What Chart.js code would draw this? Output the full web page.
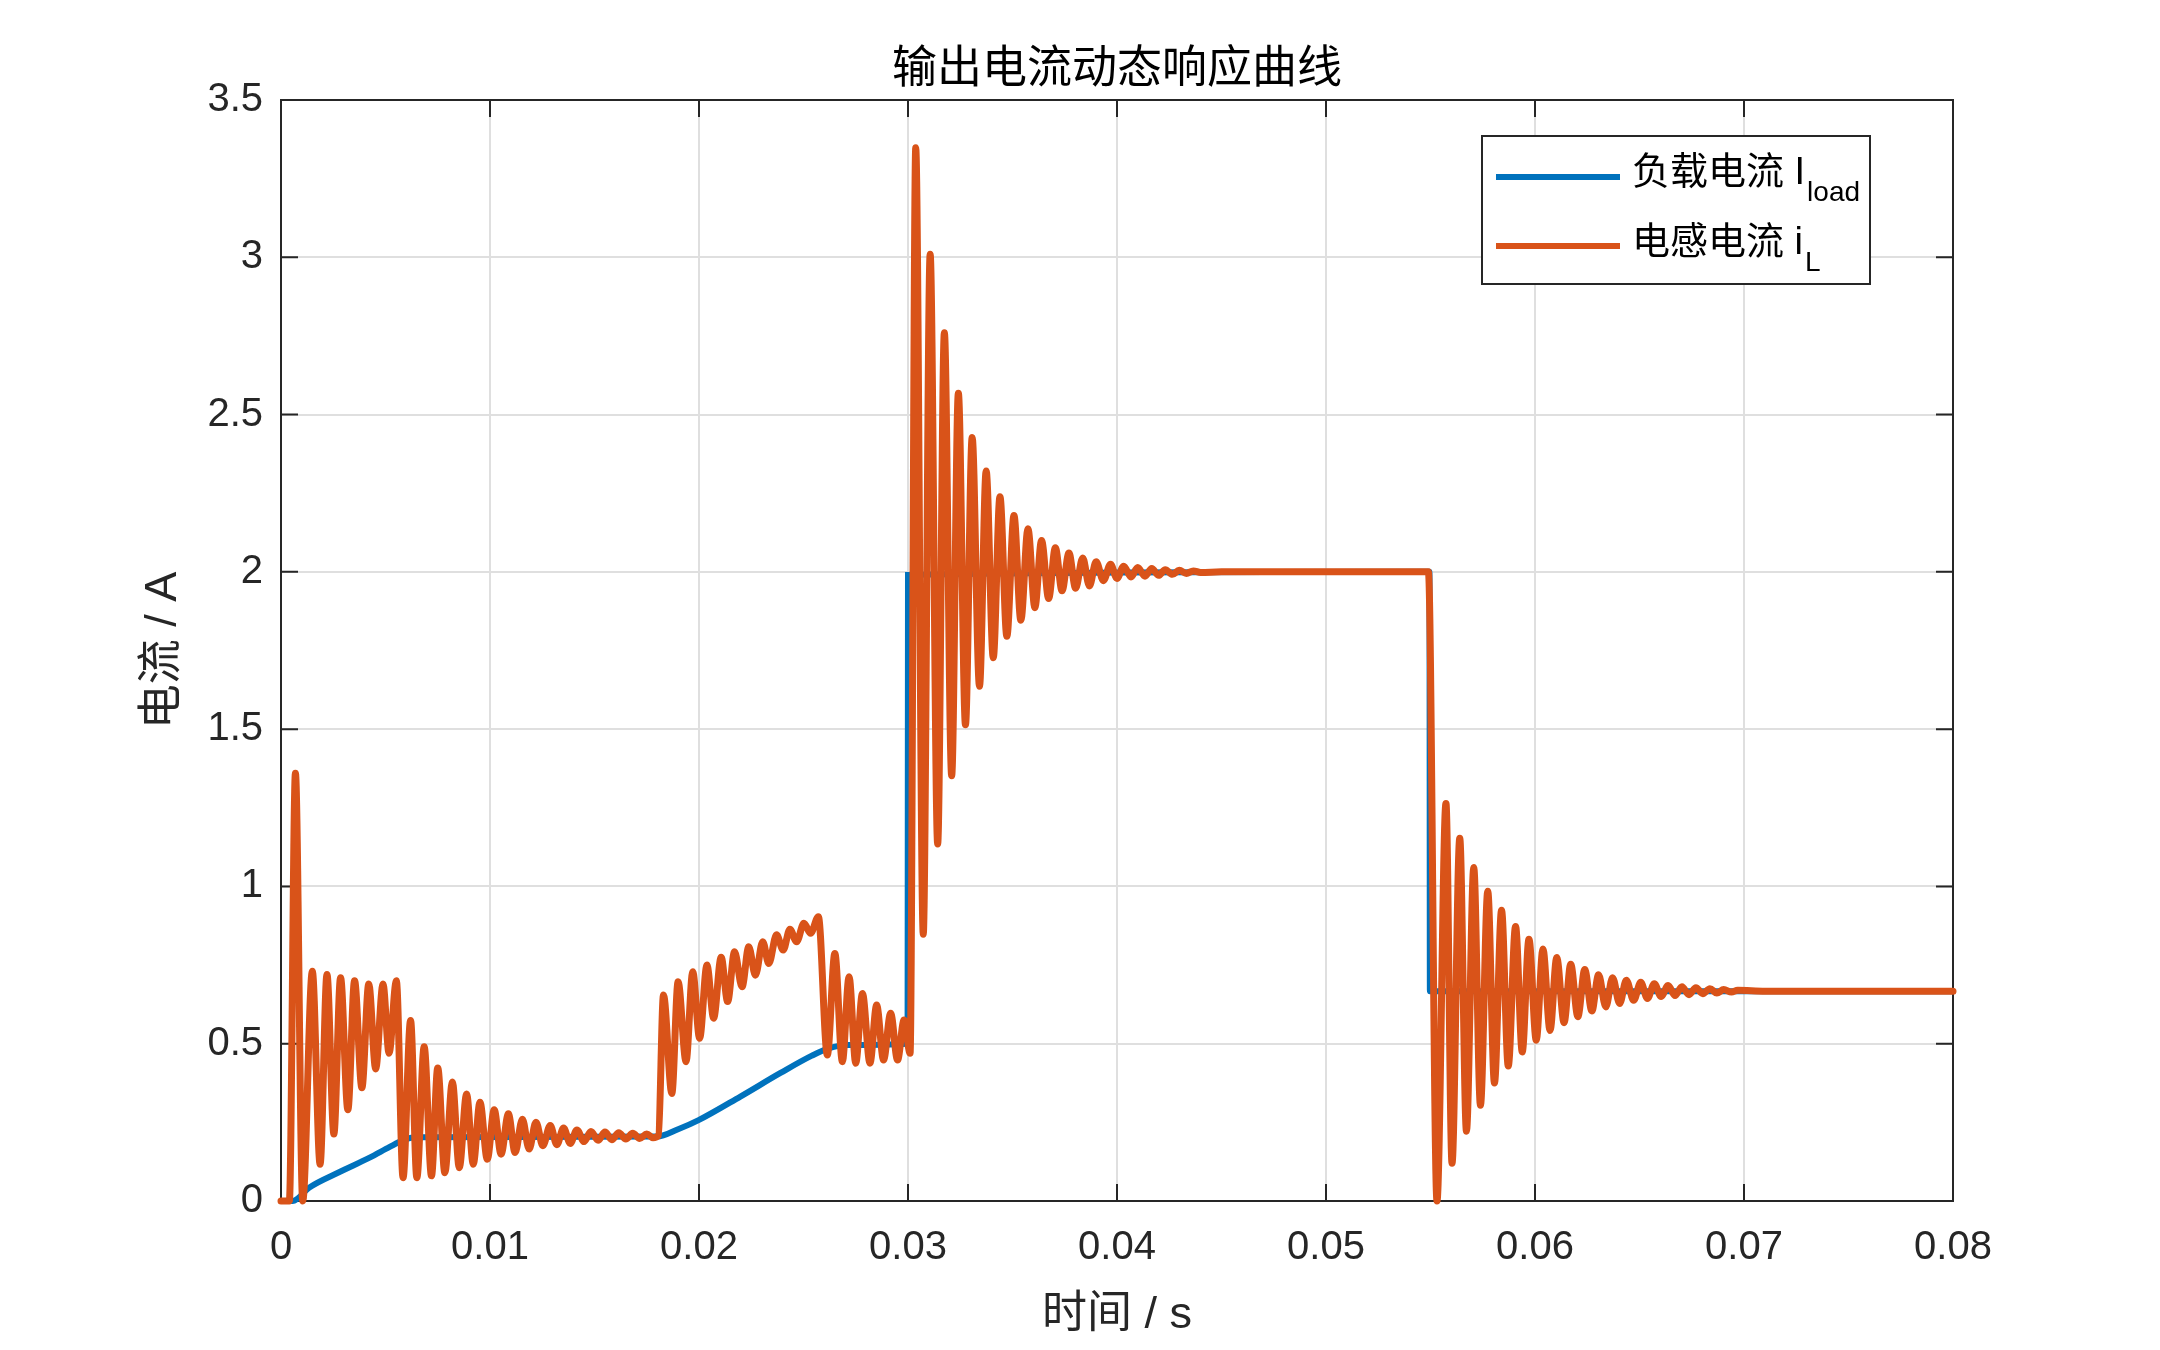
<!DOCTYPE html>
<html>
<head>
<meta charset="utf-8">
<script src="https://cdn.jsdelivr.net/npm/chart.js@4.4.1/dist/chart.umd.min.js"></script>
<style>
html,body{margin:0;padding:0;background:#ffffff;}
#wrap{width:2160px;height:1350px;position:relative;}
</style>
</head>
<body>
<div id="wrap"><canvas id="c" width="2160" height="1350"></canvas></div>
<script>
// ---------- text ----------
const chartTitle = '输出电流动态响应曲线';
const xAxisTitle = '时间 / s';
const yAxisTitle = '电流 / A';
const loadName = '负载电流 I';
const loadSub = 'load';
const indName = '电感电流 i';
const indSub = 'L';

// ---------- ticks ----------
const xTickValues = [0, 0.01, 0.02, 0.03, 0.04, 0.05, 0.06, 0.07, 0.08];
const xTickLabels = ['0', '0.01', '0.02', '0.03', '0.04', '0.05', '0.06', '0.07', '0.08'];
const yTickValues = [0, 0.5, 1, 1.5, 2, 2.5, 3, 3.5];
const yTickLabels = ['0', '0.5', '1', '1.5', '2', '2.5', '3', '3.5'];

// ---------- load current (blue) ----------
const tLoad = [0, 0.00056, 0.00136, 0.0028, 0.00424, 0.0052, 0.0058, 0.0064, 0.018, 0.019, 0.01998, 0.02198, 0.0239,
  0.0254, 0.0262, 0.0271, 0.02998, 0.03, 0.05495, 0.05497, 0.08];
const iLoad = [0, 0, 0.043, 0.092, 0.138, 0.172, 0.192, 0.203, 0.205, 0.228, 0.257, 0.332, 0.407,
  0.462, 0.485, 0.496, 0.5, 1.99, 2.0, 0.667, 0.667];

// ---------- inductor current (orange) ----------
const tInd = [
  0, 0.0004, 0.00069, 0.00104,
  0.0015, 0.00187, 0.0022, 0.00253, 0.00285, 0.0032, 0.00352, 0.00387, 0.0042, 0.00453, 0.00488, 0.00517, 0.00552,
  0.00584, 0.0062, 0.0065, 0.00685, 0.0072, 0.0075, 0.00784, 0.0082, 0.00853, 0.00888, 0.0092, 0.00952, 0.00987,
  0.0102, 0.01053, 0.01088, 0.0112, 0.01155, 0.01187, 0.0122, 0.01253, 0.01288, 0.0132, 0.01352, 0.01384, 0.01416,
  0.0145, 0.01483, 0.01517, 0.0155, 0.01583, 0.01616, 0.0165, 0.01683, 0.01716, 0.0175, 0.0178, 0.01806,
  0.0183, 0.0187, 0.019, 0.01938, 0.0197, 0.02003, 0.02038, 0.0207, 0.02106, 0.02137, 0.0217, 0.02206, 0.02238,
  0.0227, 0.02305, 0.02334, 0.02371, 0.02403, 0.02435, 0.02467, 0.02502, 0.02534, 0.02571,
  0.02614, 0.0265, 0.02686, 0.02718, 0.0275, 0.02782, 0.02818, 0.0285, 0.02883, 0.02917, 0.0295, 0.02981, 0.0301,
  0.03037, 0.03073, 0.03106, 0.03142, 0.03174, 0.03209, 0.03241, 0.03275, 0.03307, 0.03342, 0.03374, 0.03408,
  0.0344, 0.03473, 0.03507, 0.0354, 0.03574, 0.03607, 0.03639, 0.03673, 0.03705, 0.03737, 0.0377, 0.03802,
  0.03836, 0.03868, 0.039, 0.03935, 0.03969, 0.04, 0.04032, 0.04067, 0.04099, 0.04134, 0.04166, 0.04199,
  0.04231, 0.04265, 0.04298, 0.04332, 0.04365, 0.044, 0.045, 0.0549,
  0.05531, 0.05574, 0.05603, 0.0564, 0.05672, 0.05707, 0.05739, 0.05774, 0.05806, 0.0584, 0.05872, 0.05907,
  0.05939, 0.05971, 0.06006, 0.06038, 0.06072, 0.06104, 0.06139, 0.06171, 0.06205, 0.06238, 0.06272, 0.06304,
  0.06339, 0.06371, 0.06405, 0.06437, 0.06472, 0.06506, 0.06538, 0.06571, 0.06603, 0.06637, 0.0667, 0.06703,
  0.06737, 0.0677, 0.06803, 0.06837, 0.0687, 0.06903, 0.0694, 0.0697, 0.071, 0.08
];
const iInd = [
  0, 0, 1.36, 0,
  0.73, 0.117, 0.72, 0.213, 0.71, 0.29, 0.70, 0.36, 0.69, 0.42, 0.69, 0.47, 0.70,
  0.074, 0.574, 0.074, 0.49, 0.08, 0.423, 0.09, 0.378, 0.106, 0.34, 0.117, 0.314, 0.133,
  0.29, 0.149, 0.277, 0.154, 0.26, 0.165, 0.25, 0.176, 0.24, 0.179, 0.232, 0.183, 0.226,
  0.189, 0.221, 0.193, 0.219, 0.195, 0.217, 0.197, 0.215, 0.199, 0.213, 0.201, 0.208,
  0.655, 0.342, 0.697, 0.443, 0.729, 0.517, 0.75, 0.581, 0.775, 0.634, 0.792, 0.681, 0.808,
  0.718, 0.824, 0.755, 0.846, 0.798, 0.864, 0.824, 0.883, 0.851, 0.904,
  0.464, 0.787, 0.443, 0.713, 0.438, 0.66, 0.438, 0.623, 0.448, 0.597, 0.448, 0.575, 0.47,
  3.348, 0.848, 3.01, 1.135, 2.76, 1.352, 2.568, 1.514, 2.427, 1.636, 2.321, 1.727,
  2.239, 1.795, 2.179, 1.846, 2.137, 1.886, 2.10, 1.915, 2.077, 1.94, 2.06, 1.948,
  2.044, 1.955, 2.032, 1.972, 2.024, 1.979, 2.018, 1.984, 2.014, 1.986, 2.011, 1.989,
  2.007, 1.992, 2.005, 1.995, 2.003, 1.998, 2.0, 2.0,
  0.0, 1.264, 0.12, 1.153, 0.222, 1.06, 0.304, 0.985, 0.375, 0.924, 0.429, 0.873,
  0.474, 0.832, 0.511, 0.801, 0.542, 0.774, 0.567, 0.753, 0.586, 0.736, 0.604, 0.719,
  0.617, 0.71, 0.628, 0.702, 0.638, 0.695, 0.644, 0.691, 0.65, 0.685, 0.653, 0.681,
  0.656, 0.678, 0.659, 0.675, 0.661, 0.672, 0.664, 0.67, 0.667, 0.667
];

// ---------- style ----------
const BLUE = '#0072BD';
const ORANGE = '#D95319';
const AXIS = '#262626';
const GRID = '#dfdfdf';
const LATIN = '"Liberation Sans", "Noto Sans CJK SC", sans-serif';

const toPts = (t, v) => t.map((x, i) => ({x: x, y: v[i]}));

const axesBoxPlugin = {
  id: 'axesBox',
  beforeDatasetsDraw(chart) {
    const {ctx, chartArea: a, scales: {x, y}} = chart;
    ctx.save();
    ctx.strokeStyle = AXIS;
    ctx.lineWidth = 2;
    ctx.strokeRect(a.left, a.top, a.right - a.left, a.bottom - a.top);
    const L = 17;
    ctx.beginPath();
    xTickValues.forEach(v => {
      const px = x.getPixelForValue(v);
      ctx.moveTo(px, a.bottom); ctx.lineTo(px, a.bottom - L);
      ctx.moveTo(px, a.top); ctx.lineTo(px, a.top + L);
    });
    yTickValues.forEach(v => {
      const py = y.getPixelForValue(v);
      ctx.moveTo(a.left, py); ctx.lineTo(a.left + L, py);
      ctx.moveTo(a.right, py); ctx.lineTo(a.right - L, py);
    });
    ctx.stroke();
    ctx.restore();
  }
};

const legendPlugin = {
  id: 'matLegend',
  afterDraw(chart) {
    const {ctx, chartArea: a} = chart;
    const bx = a.right - 471, by = a.top + 36, bw = 388, bh = 148;
    ctx.save();
    ctx.fillStyle = '#ffffff';
    ctx.fillRect(bx, by, bw, bh);
    ctx.strokeStyle = AXIS;
    ctx.lineWidth = 2;
    ctx.strokeRect(bx, by, bw, bh);
    const rows = [
      {c: BLUE, name: loadName, sub: loadSub, ly: by + 41, base: by + 48},
      {c: ORANGE, name: indName, sub: indSub, ly: by + 110, base: by + 118}
    ];
    rows.forEach(r => {
      ctx.strokeStyle = r.c;
      ctx.lineWidth = 6;
      ctx.beginPath();
      ctx.moveTo(bx + 14, r.ly);
      ctx.lineTo(bx + 138, r.ly);
      ctx.stroke();
      ctx.fillStyle = '#000000';
      ctx.textBaseline = 'alphabetic';
      ctx.textAlign = 'left';
      ctx.font = '38px ' + LATIN;
      ctx.fillText(r.name, bx + 150, r.base);
      const w = ctx.measureText(r.name).width;
      ctx.font = '28px ' + LATIN;
      ctx.fillText(r.sub, bx + 150 + w + 2, r.base + 17);
    });
    ctx.restore();
  }
};

new Chart(document.getElementById('c'), {
  type: 'line',
  data: {
    datasets: [
      {
        label: loadName + loadSub,
        data: toPts(tLoad, iLoad),
        borderColor: BLUE,
        backgroundColor: BLUE,
        borderWidth: 6,
        pointRadius: 0,
        cubicInterpolationMode: 'monotone',
        fill: false,
        order: 2,
        clip: 10
      },
      {
        label: indName + indSub,
        data: toPts(tInd, iInd),
        borderColor: ORANGE,
        backgroundColor: ORANGE,
        borderWidth: 7,
        pointRadius: 0,
        cubicInterpolationMode: 'monotone',
        borderJoinStyle: 'round',
        borderCapStyle: 'round',
        fill: false,
        order: 1,
        clip: 10
      }
    ]
  },
  options: {
    responsive: false,
    devicePixelRatio: 1,
    animation: false,
    events: [],
    layout: {padding: {left: 0, right: 207, top: 0, bottom: 0}},
    plugins: {
      legend: {display: false},
      tooltip: {enabled: false},
      title: {
        display: true,
        text: chartTitle,
        color: '#000000',
        fullSize: false,
        font: {family: LATIN, size: 45, weight: 'normal', lineHeight: 1.2},
        padding: {top: 44, bottom: 2}
      }
    },
    scales: {
      x: {
        type: 'linear',
        min: 0,
        max: 0.08,
        afterBuildTicks: s => { s.ticks = xTickValues.map(v => ({value: v})); },
        afterFit: s => { s.height = 149; },
        ticks: {
          callback: (v, i) => xTickLabels[i],
          color: AXIS,
          font: {family: LATIN, size: 40},
          padding: 23,
          maxRotation: 0,
          autoSkip: false
        },
        grid: {color: GRID, lineWidth: 2, drawTicks: false},
        border: {display: true, color: AXIS, width: 2},
        title: {
          display: true,
          text: xAxisTitle,
          color: AXIS,
          font: {family: LATIN, size: 45, lineHeight: 1.2},
          padding: {top: 0, bottom: 7}
        }
      },
      y: {
        type: 'linear',
        min: 0,
        max: 3.5,
        afterBuildTicks: s => { s.ticks = yTickValues.map(v => ({value: v})); },
        afterFit: s => { s.width = 281; },
        ticks: {
          callback: (v, i) => yTickLabels[i],
          color: AXIS,
          font: {family: LATIN, size: 40},
          padding: 18,
          autoSkip: false
        },
        grid: {color: GRID, lineWidth: 2, drawTicks: false},
        border: {display: true, color: AXIS, width: 2},
        title: {
          display: true,
          text: yAxisTitle,
          color: AXIS,
          font: {family: LATIN, size: 45, lineHeight: 1.2},
          padding: {top: 137, bottom: 0}
        }
      }
    }
  },
  plugins: [axesBoxPlugin, legendPlugin]
});
</script>
</body>
</html>
